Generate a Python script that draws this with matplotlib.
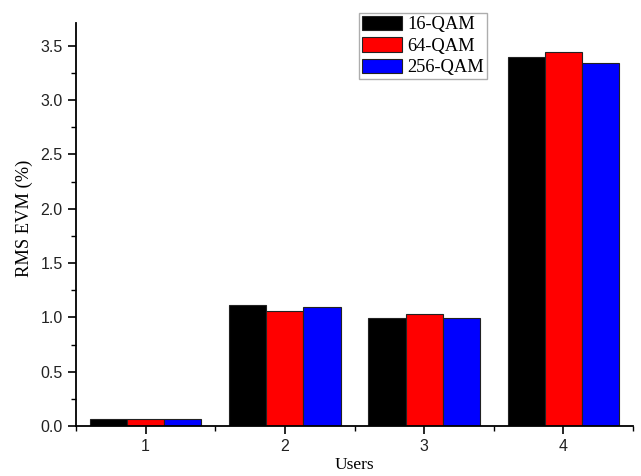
import matplotlib
matplotlib.use("Agg")
import matplotlib.pyplot as plt
import numpy as np
from matplotlib.ticker import MultipleLocator

users = [1, 2, 3, 4]
evm_16qam = [0.065, 1.11, 0.995, 3.395]
evm_64qam = [0.065, 1.06, 1.03, 3.44]
evm_256qam = [0.065, 1.095, 0.995, 3.345]
labels = ["16-QAM", "64-QAM", "256-QAM"]
colors = ["#000000", "#ff0000", "#0000ff"]

fig = plt.figure(figsize=(6.41, 4.76), dpi=100)
ax = fig.add_axes([76 / 641, 50 / 476, 557 / 641, 403 / 476])

x = np.array(users, dtype=float)
w = 0.8 / 3
for i, (vals, lab, c) in enumerate(zip([evm_16qam, evm_64qam, evm_256qam], labels, colors)):
    ax.bar(x + (i - 1) * w, vals, width=w, color=c, edgecolor="#222222",
           linewidth=0.8, label=lab)

ax.set_xlim(0.5, 4.5)
ax.set_ylim(0, 3.71)
ax.set_xticks(users)
ax.xaxis.set_minor_locator(MultipleLocator(0.5))
ax.yaxis.set_major_locator(MultipleLocator(0.5))
ax.yaxis.set_minor_locator(MultipleLocator(0.25))
ax.yaxis.set_major_formatter(matplotlib.ticker.FormatStrFormatter("%.1f"))

for s in ["top", "right"]:
    ax.spines[s].set_visible(False)
for s in ["left", "bottom"]:
    ax.spines[s].set_linewidth(1.3)

ax.tick_params(which="major", direction="out", length=6, width=1.2, labelsize=11.5)
ax.tick_params(which="minor", direction="out", length=3.5, width=1.0)
for t in ax.get_xticklabels() + ax.get_yticklabels():
    t.set_fontfamily("Liberation Sans")
    t.set_color("#222222")

ax.set_xlabel("Users", fontfamily="Liberation Serif", fontsize=12.5, labelpad=2)
ax.set_ylabel("RMS EVM (%)", fontfamily="Liberation Serif", fontsize=13.3)
ax.yaxis.set_label_coords(-0.077, 0.515)

leg = ax.legend(loc="upper left", bbox_to_anchor=(0.508, 1.025),
                prop={"family": "Liberation Serif", "size": 13.3},
                frameon=True, fancybox=False, edgecolor="#999999",
                handlelength=2.2, handleheight=0.85, handletextpad=0.25,
                labelspacing=0.2, borderpad=0.15, borderaxespad=0)
leg.get_frame().set_linewidth(1.0)

fig.savefig("out.png", dpi=100)
